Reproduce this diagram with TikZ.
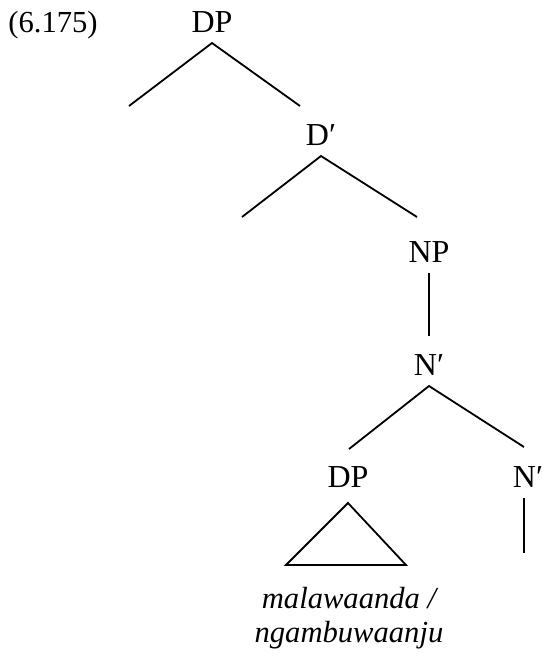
\documentclass[tikz,border=0pt]{standalone}
\usepackage{fontspec}
\setmainfont{Liberation Serif}
\usetikzlibrary{positioning}
\tikzset{
  lab/.style={inner sep=0pt, outer ysep=5.5pt, text height=14pt, text depth=0pt,
              font=\fontsize{16}{19}\selectfont, anchor=base},
  gloss/.style={inner sep=0pt, font=\fontsize{15.3}{18}\selectfont\itshape, anchor=base},
  branch/.style={draw=black, line width=0.9pt},
}

\begin{document}
\begin{tikzpicture}[x=0.5pt, y=-0.5pt]
  \useasboundingbox (0,0) rectangle (546,661);
  \node[lab, outer ysep=0pt, font=\fontsize{15.3}{18}\selectfont] (exnum) at (53,32) {(6.175)};
  % nodes
  \node[lab] (dpTop) at (212,32) {DP};
  \node[lab] (dbar) at (321,145) {D′};
  \node[lab] (np) at (429,262) {NP};
  \node[lab] (nbar) at (429,375) {N′};
  \node[lab] (dpLow) at (348,487) {DP};
  \node[lab] (nbarLow) at (528,487) {N′};
  \node[gloss] (wordA) at (349,608) {malawaanda /};
  \node[gloss] (wordB) at (349,642) {ngambuwaanju};
  % branch ends
  \coordinate (dpL) at (129,106);
  \coordinate (dpR) at (300,106);
  \coordinate (dbarL) at (242,217);
  \coordinate (dbarR) at (417,217);
  \coordinate (nbarL) at (349,449);
  \coordinate (nbarR) at (524,447);
  \coordinate (nbarLowE) at (524,553);
  \coordinate (triL) at (286,565);
  \coordinate (triR) at (406,565);
  % branches
  \draw[branch] (dpL) -- (dpTop.south) -- (dpR);
  \draw[branch] (dbarL) -- (dbar.south) -- (dbarR);
  \draw[branch] (np.south) -- (nbar.north);
  \draw[branch] (nbarL) -- (nbar.south) -- (nbarR);
  \draw[branch] ([xshift=-2pt]nbarLow.south) -- (nbarLowE);
  \draw[branch] ([yshift=-2.5pt]dpLow.south) -- (triL) -- (triR) -- cycle;
\end{tikzpicture}
\end{document}
